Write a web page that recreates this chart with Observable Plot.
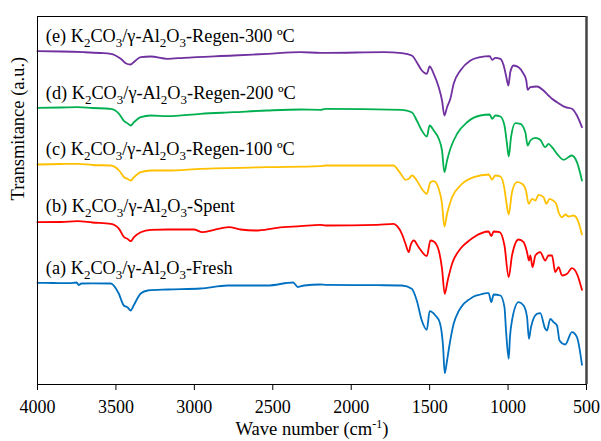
<!DOCTYPE html>
<html>
<head>
<meta charset="utf-8">
<script src="https://cdn.jsdelivr.net/npm/d3@7"></script>
<script src="https://cdn.jsdelivr.net/npm/@observablehq/plot@0.6"></script>
<style>
  body { margin: 0; background: #fff; }
</style>
</head>
<body>
<div id="chart"></div>
<script>
// ---- data (wavenumber cm-1, transmittance a.u.) ----
const fresh = [[4000,101.7],[3900,101.5],[3800,101.3],[3750,102],[3737,99.5],[3720,101],[3650,101.2],[3533,101],[3482,91],[3450,79],[3425,77],[3406,74],[3387,79],[3342,91],[3297,94],[3170,95],[2960,96],[2788,99],[2533,99],[2370,102],[2340,97.5],[2300,99],[2196,100],[2164,99.7],[1835,99.3],[1677,99],[1614,95.7],[1582,84],[1550,64],[1518,54.7],[1500,73.3],[1463,69],[1436,62.3],[1414,37.3],[1404,11.3],[1389,24],[1374,39],[1347,60.7],[1315,73.3],[1283,80.7],[1251,84.7],[1219,88],[1177,90],[1134,91.3],[1124,91.3],[1107,82.3],[1092,90],[1049,89],[1023,77.3],[1013,54],[996,25.7],[988,47.3],[975,64],[933,82.3],[901,79],[879,67.3],[867,45.7],[854,57.3],[816,70.7],[795,71.3],[763,55.7],[752,54],[731,65.7],[710,62.3],[688,59],[672,44],[636,40],[593,52.3],[561,47.3],[529,19.7]];
const spent = [[4000,162.3],[3850,162.5],[3745,163.3],[3650,162],[3533,160.7],[3480,155.7],[3448,147.3],[3427,145.7],[3406,143.3],[3385,147.3],[3342,152.3],[3278,154.7],[3172,155],[3003,155],[2949,152.3],[2875,154.7],[2780,157.3],[2705,155],[2610,154],[2471,156.7],[2323,158.3],[2196,159.7],[2164,159],[1835,159.7],[1729,160.7],[1707,158.3],[1677,150.7],[1654,140.7],[1633,132.3],[1622,139],[1601,144],[1570,137.3],[1518,128.3],[1495,144],[1474,143],[1442,134],[1421,115.7],[1404,90.7],[1385,104],[1357,120.7],[1304,135.7],[1261,142.3],[1219,147.3],[1124,153],[1107,148.3],[1092,153],[1054,152.3],[1023,139],[996,107.3],[975,129],[933,145],[901,142.3],[879,132.3],[867,124],[858,129],[844,117.3],[826,129],[795,132.3],[763,124],[742,129],[720,129],[699,112.3],[678,117.3],[656,109],[624,110.7],[593,116.3],[561,110.7],[529,94.7]];
const regen100 = [[4000,220],[3850,220.5],[3745,220.7],[3650,219.5],[3533,219],[3480,214],[3448,207.3],[3427,205.7],[3406,204],[3385,207.3],[3342,212.3],[3278,214],[3172,214],[2960,215.7],[2535,217.3],[2196,218.3],[2164,219],[1729,219],[1707,215.7],[1677,209],[1654,204.7],[1633,205.7],[1612,209],[1582,204],[1550,195.7],[1518,190.7],[1495,202.3],[1474,203.3],[1442,195.7],[1421,180.7],[1406,158],[1389,170.7],[1357,187.3],[1304,199],[1219,207.3],[1124,210],[1102,205],[1081,209],[1049,208],[1023,195.7],[1011,182.3],[996,170],[975,192.3],[943,202.3],[911,200.7],[886,194],[869,180.7],[847,185.7],[826,184],[805,189.7],[774,187.3],[756,180.7],[735,185.7],[714,184],[693,180.7],[678,172.3],[656,167.3],[635,170],[614,168],[582,169],[551,162.3],[529,150]];
const regen200 = [[4000,276.7],[3850,277],[3745,277.3],[3650,276.5],[3533,275.7],[3480,270.7],[3448,263.3],[3427,261.3],[3406,259],[3385,262.3],[3342,267.3],[3278,269],[3172,268.3],[2960,270.7],[2750,272.3],[2535,274],[2323,275],[2196,274.7],[2164,275.7],[1677,274.7],[1614,272.3],[1582,264],[1550,254],[1518,248],[1500,259],[1474,254],[1442,245.7],[1421,234],[1406,212.3],[1389,224],[1368,235.7],[1325,250.7],[1261,262.3],[1177,269],[1117,270],[1102,265.7],[1081,269],[1049,268],[1023,259],[1007,240.7],[996,228],[981,247.3],[954,261.3],[922,260.7],[890,252.3],[875,239],[858,244],[826,246.7],[795,244.7],[763,237.3],[742,240.7],[720,237.3],[688,230.7],[646,224.7],[593,229],[561,222.3],[529,204]];
const regen300 = [[4000,333.3],[3850,333],[3705,332.3],[3600,331.5],[3533,330.7],[3469,325.7],[3438,321.3],[3406,320],[3387,322.3],[3342,327.3],[3278,328],[3172,325.7],[3068,326.7],[2750,329],[2533,330.7],[2323,332.3],[2196,331.7],[2153,331.7],[1792,332.3],[1677,331.3],[1614,329],[1582,322.3],[1550,314],[1518,310.7],[1500,318],[1474,310.7],[1442,297.3],[1421,284],[1406,269],[1389,277.3],[1368,285.7],[1347,300.7],[1304,314],[1240,324],[1177,327.3],[1117,328.3],[1102,324.7],[1081,326.7],[1049,325.7],[1028,319],[1011,307.3],[998,299],[986,312.3],[965,319],[933,317.3],[901,310.7],[884,304],[875,294.7],[858,297.3],[816,298],[774,294],[742,289],[720,285.7],[688,282.3],[635,277.3],[593,275.7],[561,269],[529,257.3]];

const seriesNames = ["Fresh", "Spent", "Regen-100", "Regen-200", "Regen-300"];
const seriesLabels = [
  "(a) K2CO3/γ-Al2O3-Fresh",
  "(b) K2CO3/γ-Al2O3-Spent",
  "(c) K2CO3/γ-Al2O3-Regen-100 ºC",
  "(d) K2CO3/γ-Al2O3-Regen-200 ºC",
  "(e) K2CO3/γ-Al2O3-Regen-300 ºC"
];
const xTicks = [4000, 3500, 3000, 2500, 2000, 1500, 1000, 500];
const xTitle = "Wave number (cm-1)";
const yTitle = "Transmitance (a.u.)";

// ---- build table ----
const allSeries = [fresh, spent, regen100, regen200, regen300];
const rows = allSeries.flatMap((pts, i) => pts.map(([wn, t]) => ({series: seriesNames[i], wn, t})));
const labelRows = allSeries.map((pts, i) => ({
  label: seriesLabels[i],
  wn: 3947,
  t: pts[0][1] + (i === 1 ? 16.5 : 15)
}));

const colors = ["#0070C0", "#FF0000", "#FFC000", "#00B050", "#7030A0"];
const FONT = "'Liberation Serif', 'Times New Roman', serif";

const chart = Plot.plot({
  width: 601,
  height: 441,
  marginLeft: 37,
  marginRight: 15,
  marginTop: 16,
  marginBottom: 57,
  style: {fontFamily: FONT, background: "white", color: "black"},
  x: {domain: [4000, 500]},
  y: {domain: [0, 368], axis: null},
  color: {domain: seriesNames, range: colors},
  marks: [
    Plot.line(rows, {x: "wn", y: "t", z: "series", stroke: "series", strokeWidth: 1.8, curve: "monotone-x"}),
    Plot.frame({stroke: "black", strokeWidth: 1}),
    Plot.ruleX([500], {stroke: "#444", strokeWidth: 2.5}),
    Plot.axisX({ticks: xTicks, tickSize: 6, tickPadding: 10, fontSize: 18, tickFormat: d3.format("d"), label: null, stroke: "black"}),
    Plot.text(labelRows, {x: "wn", y: "t", text: "label", textAnchor: "start", lineAnchor: "middle", fontSize: 18.3, fill: "black"}),
    Plot.text([yTitle], {frameAnchor: "left", dx: -19, rotate: -90, fontSize: 18.5, fill: "black", lineAnchor: "middle"}),
    Plot.text([xTitle], {frameAnchor: "bottom", dy: 45, fontSize: 18.6, fill: "black", lineAnchor: "middle"})
  ]
});

document.getElementById("chart").appendChild(chart);

// ---- sub/superscripts as tspans ----
const NS = "http://www.w3.org/2000/svg";
function richify(el, parts, shiftPx, smallSize) {
  el.textContent = "";
  let cur = 0;
  parts.forEach((p, i) => {
    if (!p) return;
    const t = document.createElementNS(NS, "tspan");
    const special = i % 2 === 1;
    const target = special ? shiftPx : 0;
    if (target !== cur) t.setAttribute("dy", (target - cur) + "px");
    cur = target;
    if (special) t.setAttribute("font-size", smallSize);
    t.textContent = p;
    el.appendChild(t);
  });
}
d3.select(chart).selectAll("text").each(function () {
  const s = this.textContent;
  if (s.includes("K2CO3")) {
    richify(this, s.split(/(?<=[A-Za-z])(\d)/), 5, 13);
  } else if (s === xTitle) {
    richify(this, s.split(/(-1)/), -7, 12);
  }
});
</script>
</body>
</html>
